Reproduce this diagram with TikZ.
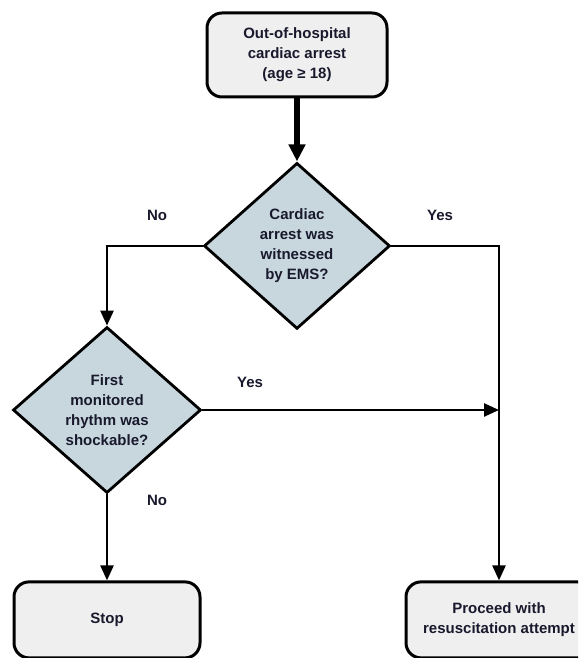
\documentclass[tikz,border=0pt]{standalone}
\usepackage{fontspec}
\setmainfont{Liberation Sans}
\usepackage{tikz}
\usetikzlibrary{arrows.meta, positioning, shapes.geometric}

\definecolor{termfill}{RGB}{239,239,239}
\definecolor{decfill}{RGB}{200,215,222}
\definecolor{inktext}{RGB}{25,25,45}

\begin{document}
\begin{tikzpicture}[
  x=1pt, y=1pt,
  every node/.style={font=\bfseries\fontsize{15}{20}\selectfont, text=inktext},
  term/.style={rectangle, rounded corners=15pt, draw, line width=3pt, align=center, minimum width=186pt, minimum height=76pt, fill=termfill, inner sep=0pt},
  decision/.style={diamond, draw, line width=2.8pt, align=center, aspect=1.1, inner sep=0pt, minimum width=186pt, minimum height=166pt, fill=decfill},
  lbl/.style={inner sep=0pt},
  flow/.style={line width=2.5pt, -{Triangle[length=15pt, width=13pt]}},
  >=Latex
]
\clip (0,0) rectangle (578,658);
\node[term, minimum width=180pt, minimum height=84pt] (start) at (297,603) {Out-of-hospital\\cardiac arrest\\(age ≥ 18)};
\node[decision, below=63pt of start] (witness) {Cardiac\\arrest was\\witnessed\\by EMS?};
\node[decision, minimum width=188pt] (rhythm) at (107,248) {First\\monitored\\rhythm was\\shockable?};
\node[term, below=86pt of rhythm] (stop) {Stop};
\node[term, right=203pt of stop] (proceed) {Proceed with\\resuscitation attempt};
\coordinate (join) at (proceed.north |- rhythm.east);

\node[lbl] (nowit) at (157,443) {No};
\node[lbl] (yeswit) at (440,443) {Yes};
\node[lbl] (yesrhy) at (250,276) {Yes};
\node[lbl] (norhy) at (157,158) {No};

\draw[line width=5.5pt, -{Triangle[length=17pt, width=16pt]}] (start) -- (witness);
\draw[flow] (witness.west) -| (rhythm.north);
\draw[flow] (witness.east) -| (proceed.north);
\draw[flow] (rhythm.east) -- (join);
\draw[flow] (rhythm.south) -- (stop.north);
\end{tikzpicture}
\end{document}
